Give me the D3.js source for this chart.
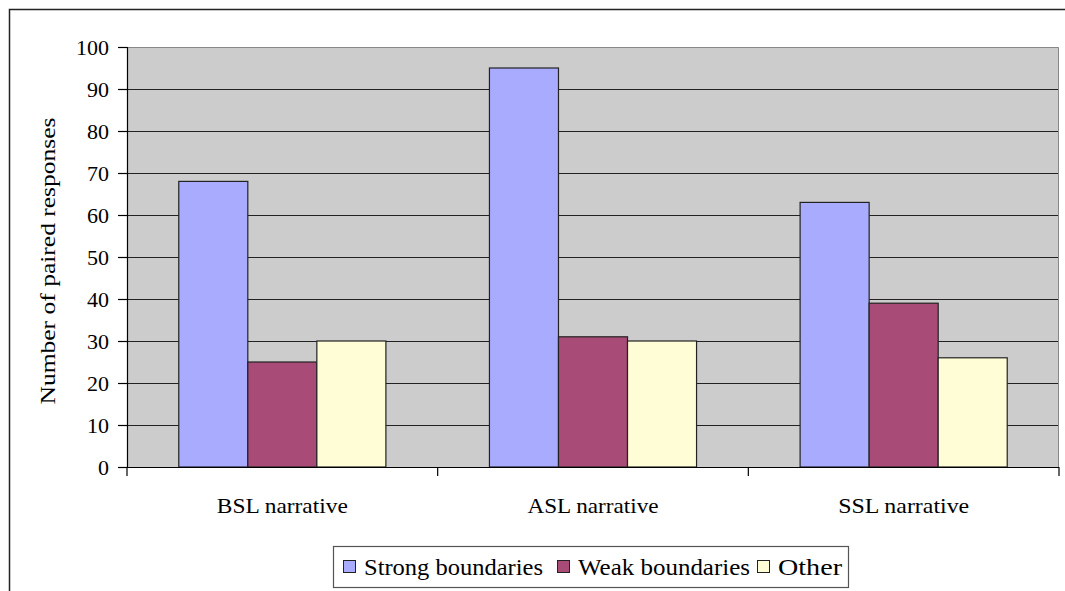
<!DOCTYPE html>
<html>
<head>
<meta charset="utf-8">
<script src="https://cdn.jsdelivr.net/npm/d3@7"></script>
<style>
  html, body { margin: 0; padding: 0; background: #fff; }
  svg { display: block; }
  text { font-family: "Liberation Serif", "Times New Roman", serif; fill: #000; }
</style>
</head>
<body>
<svg id="chart" width="1065" height="591"></svg>
<script>
// Paired responses per narrative, by boundary type
const categories = ["BSL narrative", "ASL narrative", "SSL narrative"];
const seriesNames = ["Strong boundaries", "Weak boundaries", "Other"];
const strongValues = [68, 95, 63];
const weakValues = [25, 31, 39];
const otherValues = [30, 30, 26];
const yTicks = [0, 10, 20, 30, 40, 50, 60, 70, 80, 90, 100];
const seriesColors = ["#a9abff", "#a84b77", "#fffdd6"];

const seriesValues = [strongValues, weakValues, otherValues];
const SERIF = '"Liberation Serif", "Times New Roman", serif';

const svg = d3.select("#chart");
const W = 1065, H = 591;

// Outer chart frame
svg.append("rect")
  .attr("x", 9.5).attr("y", 9.5)
  .attr("width", W + 20).attr("height", H + 20)
  .attr("fill", "#fff").attr("stroke", "#222").attr("stroke-width", 1.5);

const plot = { left: 127, top: 47, right: 1059, bottom: 467 };

const x0 = d3.scaleBand()
  .domain(categories)
  .range([plot.left, plot.right])
  .paddingInner(0).paddingOuter(0);

// Three bars per group with a gap of 1.5 bar widths split across both sides
const x1 = d3.scaleBand()
  .domain(seriesNames)
  .range([0, x0.bandwidth()])
  .paddingInner(0)
  .paddingOuter(0.75);

const y = d3.scaleLinear().domain([0, 100]).range([plot.bottom, plot.top]);

// Plot area background
svg.append("rect")
  .attr("x", plot.left).attr("y", plot.top)
  .attr("width", plot.right - plot.left).attr("height", plot.bottom - plot.top)
  .attr("fill", "#cccccc");

// Gridlines
svg.append("g")
  .selectAll("line")
  .data(yTicks.filter(t => t > 0 && t < 100))
  .join("line")
  .attr("x1", plot.left).attr("x2", plot.right)
  .attr("y1", d => Math.round(y(d)) + 0.5).attr("y2", d => Math.round(y(d)) + 0.5)
  .attr("stroke", "#222").attr("stroke-width", 1.2);

// Plot area border on top and right
svg.append("path")
  .attr("d", `M${plot.left},${plot.top + 0.5}H${plot.right - 0.5}V${plot.bottom}`)
  .attr("fill", "none").attr("stroke", "#888").attr("stroke-width", 1);

// Bars
const groups = svg.append("g")
  .selectAll("g")
  .data(categories)
  .join("g")
  .attr("transform", d => `translate(${x0(d)},0)`);

groups.selectAll("rect")
  .data((c, i) => seriesNames.map((s, j) => ({ s, j, v: seriesValues[j][i] })))
  .join("rect")
  .attr("x", d => x1(d.s))
  .attr("y", d => y(d.v))
  .attr("width", x1.bandwidth())
  .attr("height", d => y(0) - y(d.v))
  .attr("fill", d => seriesColors[d.j])
  .attr("stroke", "#222").attr("stroke-width", 1.2);

// Y axis
const yAxis = d3.axisLeft(y).tickValues(yTicks).tickSize(9).tickPadding(9);
const gy = svg.append("g")
  .attr("transform", `translate(${plot.left},0)`)
  .call(yAxis)
  .attr("font-family", null).attr("font-size", null);
gy.select(".domain").attr("stroke", "#000").attr("stroke-width", 1.2);
gy.selectAll(".tick line").attr("stroke", "#000").attr("stroke-width", 1.2);
gy.selectAll(".tick text")
  .style("font-family", SERIF)
  .style("font-size", "22px").attr("fill", "#000")
  .attr("dy", "0.36em");

// X axis
const xAxis = d3.axisBottom(x0).tickSize(0).tickPadding(0);
const gx = svg.append("g")
  .attr("transform", `translate(0,${plot.bottom})`)
  .call(xAxis)
  .attr("font-family", null).attr("font-size", null);
gx.select(".domain").remove();
gx.append("line")
  .attr("x1", plot.left).attr("x2", plot.right)
  .attr("y1", 0.5).attr("y2", 0.5)
  .attr("stroke", "#000").attr("stroke-width", 1.2);
gx.selectAll(".sep")
  .data(categories.map(c => x0(c)).concat([plot.right]))
  .join("line")
  .attr("class", "sep")
  .attr("x1", d => d).attr("x2", d => d)
  .attr("y1", 0).attr("y2", 9)
  .attr("stroke", "#000").attr("stroke-width", 1.2);
gx.selectAll(".tick text")
  .style("font-family", SERIF)
  .style("font-size", "22px").attr("fill", "#000")
  .attr("y", 46).attr("dy", 0)
  .attr("textLength", 131).attr("lengthAdjust", "spacingAndGlyphs");

// Y axis title
svg.append("text")
  .attr("transform", `translate(55,${(plot.top + plot.bottom) / 2 + 4}) rotate(-90)`)
  .attr("text-anchor", "middle")
  .style("font-family", SERIF)
  .style("font-size", "22px")
  .attr("textLength", 287).attr("lengthAdjust", "spacingAndGlyphs")
  .text("Number of paired responses");

// Legend
const legend = svg.append("g");
legend.append("rect")
  .attr("x", 333.5).attr("y", 546.5)
  .attr("width", 515).attr("height", 41)
  .attr("fill", "#fff").attr("stroke", "#555").attr("stroke-width", 1.2);

const legendItems = [
  { x: 343, len: 179, name: seriesNames[0], color: seriesColors[0] },
  { x: 557, len: 172, name: seriesNames[1], color: seriesColors[1] },
  { x: 757, len: 64, name: seriesNames[2], color: seriesColors[2] }
];
const li = legend.selectAll("g.item").data(legendItems).join("g").attr("class", "item")
  .attr("transform", d => `translate(${d.x},567)`);
li.append("rect")
  .attr("x", 0.5).attr("y", -6.5).attr("width", 12).attr("height", 12)
  .attr("fill", d => d.color).attr("stroke", "#222").attr("stroke-width", 1);
li.append("text")
  .attr("x", 21).attr("y", 8)
  .style("font-family", SERIF)
  .style("font-size", "24px")
  .attr("textLength", d => d.len).attr("lengthAdjust", "spacingAndGlyphs")
  .text(d => d.name);
</script>
</body>
</html>
